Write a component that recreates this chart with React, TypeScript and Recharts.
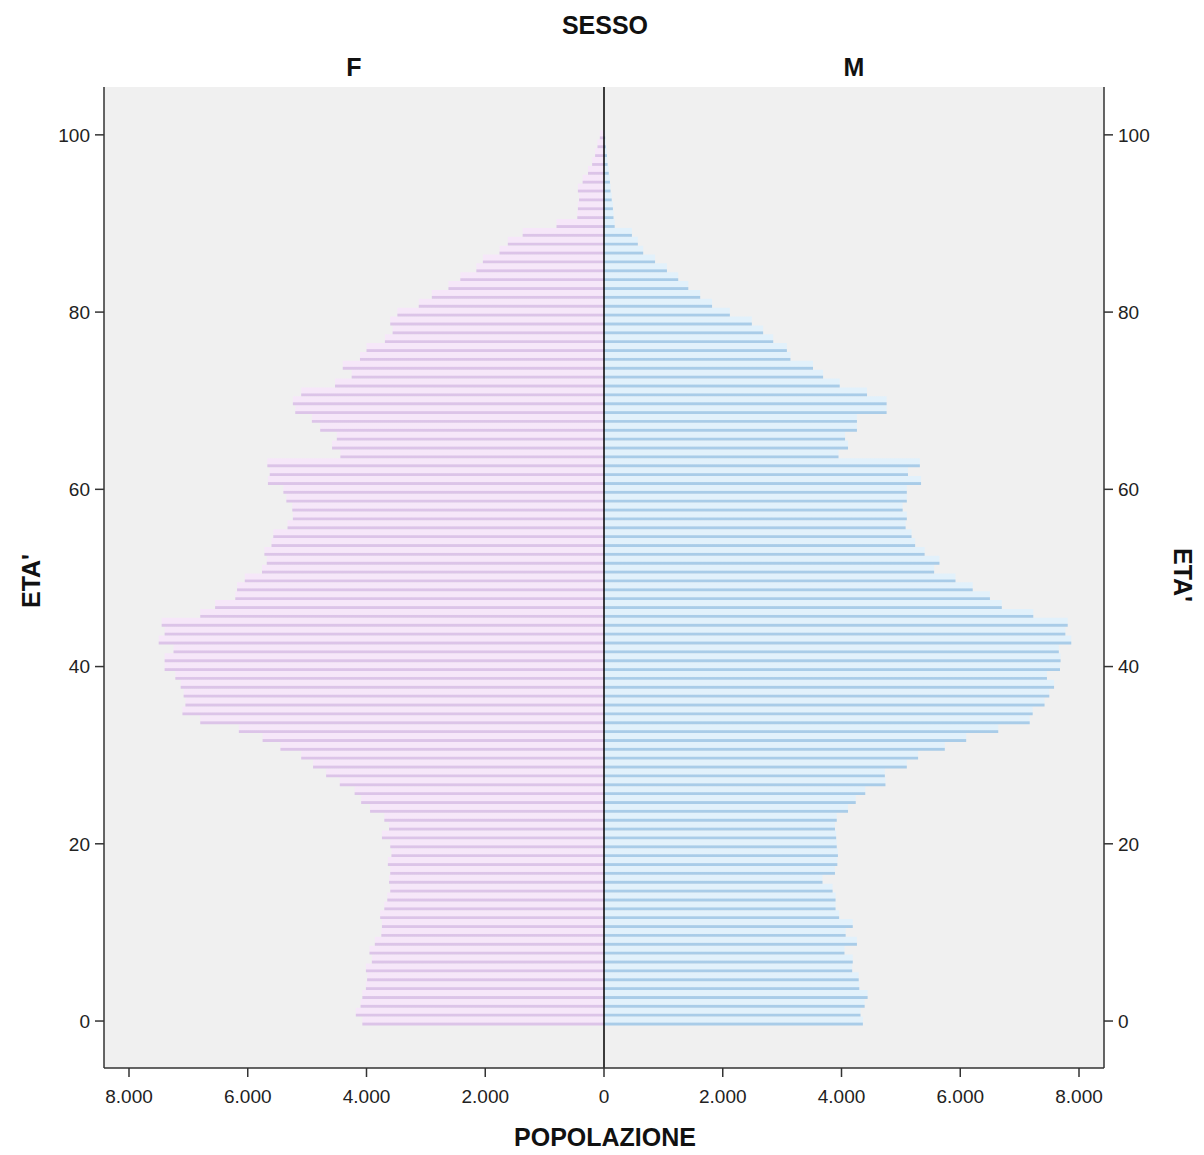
import React from 'react';
import {
  BarChart,
  Bar,
  XAxis,
  YAxis,
  CartesianGrid,
  ReferenceLine,
} from 'recharts';

// eta' 0..100, one bar per year
const eta: number[] = Array.from({ length: 101 }, (_, i) => i);

const femmine: number[] = [
  4070, 4180, 4100, 4070, 4010, 3990, 4010, 3910, 3950, 3860,
  3750, 3740, 3770, 3700, 3650, 3600, 3620, 3600, 3640, 3580,
  3600, 3740, 3620, 3700, 3940, 4090, 4200, 4450, 4680, 4900,
  5100, 5450, 5750, 6150, 6800, 7100, 7050, 7080, 7130, 7220,
  7400, 7400, 7250, 7500, 7400, 7450, 6800, 6550, 6210, 6180,
  6050, 5760, 5680, 5720, 5600, 5570, 5330, 5240, 5250, 5350,
  5400, 5660, 5630, 5670, 4440, 4580, 4500, 4780, 4920, 5200,
  5240, 5100, 4530, 4250, 4400, 4110, 4000, 3690, 3560, 3600,
  3480, 3120, 2900, 2620, 2420, 2150, 2040, 1760, 1620, 1370,
  800, 450, 440, 420, 440, 360, 270, 200, 150, 110,
  70,
];

const maschi: number[] = [
  4360, 4320, 4390, 4440, 4300, 4290, 4180, 4190, 4050, 4260,
  4070, 4190, 3960, 3900, 3900, 3850, 3680, 3890, 3930, 3940,
  3920, 3910, 3890, 3920, 4110, 4240, 4400, 4740, 4730, 5100,
  5290, 5740, 6100, 6640, 7170, 7220, 7420, 7500, 7580, 7460,
  7680, 7690, 7660, 7870, 7770, 7810, 7230, 6700, 6500, 6210,
  5920, 5560, 5650, 5400, 5240, 5180, 5080, 5100, 5030, 5100,
  5100, 5340, 5120, 5320, 3950, 4110, 4060, 4260, 4260, 4760,
  4760, 4430, 3970, 3690, 3520, 3140, 3080, 2850, 2680, 2490,
  2120, 1820, 1620, 1420, 1250, 1060, 860, 660, 570, 470,
  180, 160, 150, 130, 110, 100, 80, 60, 50, 30,
  20,
];

const xTicks: number[] = [-8000, -6000, -4000, -2000, 0, 2000, 4000, 6000, 8000];
const yTicks: number[] = [0, 20, 40, 60, 80, 100];

const data = eta.map((age, i) => ({ age, F: -femmine[i], M: maschi[i] }));

const FONT = '"Liberation Sans", Arial, sans-serif';
const tickStyle = { fontSize: 19, fill: '#222', fontFamily: FONT };

const formatPop = (v: number) =>
  Math.abs(v) === 0 ? '0' : Math.abs(v).toLocaleString('de-DE');

const labelStyle: React.CSSProperties = {
  position: 'absolute',
  fontFamily: FONT,
  fontWeight: 'bold',
  fontSize: 25,
  color: '#111',
  transform: 'translate(-50%, -50%)',
  whiteSpace: 'nowrap',
};

const App: React.FC = () => {
  return (
    <div style={{ position: 'absolute', left: 0, top: 0, width: 1204, height: 1155, background: '#fff' }}>
      <BarChart
        width={1204}
        height={1155}
        data={data}
        layout='vertical'
        stackOffset='sign'
        margin={{ top: 87, right: 0, bottom: 0, left: 0 }}
      >
        <defs>
          <linearGradient id='gradF' x1='0' y1='0' x2='0' y2='1'>
            <stop offset='0%' stopColor='#f6e7f9' />
            <stop offset='62%' stopColor='#f6e7f9' />
            <stop offset='74%' stopColor='#dcc4e8' />
            <stop offset='100%' stopColor='#dcc4e8' />
          </linearGradient>
          <linearGradient id='gradM' x1='0' y1='0' x2='0' y2='1'>
            <stop offset='0%' stopColor='#e2f1fb' />
            <stop offset='62%' stopColor='#e2f1fb' />
            <stop offset='74%' stopColor='#a9cce8' />
            <stop offset='100%' stopColor='#a9cce8' />
          </linearGradient>
        </defs>
        <CartesianGrid fill='#f0f0f0' horizontal={false} vertical={false} />
        <XAxis
          type='number'
          domain={[-8421, 8421]}
          ticks={xTicks}
          allowDataOverflow
          tickFormatter={formatPop}
          tick={tickStyle}
          tickSize={9}
          tickMargin={13}
          height={87}
          stroke='#333'
          strokeWidth={1.5}
        />
        <XAxis
          xAxisId='top'
          orientation='top'
          type='number'
          domain={[-8421, 8421]}
          allowDataOverflow
          tick={false}
          tickLine={false}
          height={0}
          stroke='#333'
          strokeWidth={1.5}
        />
        <YAxis
          type='number'
          dataKey='age'
          domain={[-5.3, 105.4]}
          ticks={yTicks}
          reversed
          allowDataOverflow
          tick={tickStyle}
          tickSize={9}
          tickMargin={5}
          width={104}
          stroke='#333'
          strokeWidth={1.5}
        />
        <YAxis
          yAxisId='right'
          orientation='right'
          type='number'
          dataKey='age'
          domain={[-5.3, 105.4]}
          ticks={yTicks}
          reversed
          allowDataOverflow
          tick={tickStyle}
          tickSize={9}
          tickMargin={5}
          width={100}
          stroke='#333'
          strokeWidth={1.5}
        />
        <Bar
          dataKey='F'
          stackId='p'
          barSize={8.86}
          fill='url(#gradF)'
          isAnimationActive={false}
        />
        <Bar
          dataKey='M'
          stackId='p'
          barSize={8.86}
          fill='url(#gradM)'
          isAnimationActive={false}
        />
        <ReferenceLine x={0} stroke='#000' strokeWidth={1.5} />
      </BarChart>
      <div style={{ ...labelStyle, left: 605, top: 25 }}>SESSO</div>
      <div style={{ ...labelStyle, left: 354, top: 67 }}>F</div>
      <div style={{ ...labelStyle, left: 854, top: 67 }}>M</div>
      <div style={{ ...labelStyle, left: 605, top: 1137 }}>POPOLAZIONE</div>
      <div style={{ ...labelStyle, left: 31, top: 581, transform: 'translate(-50%, -50%) rotate(-90deg)' }}>
        ETA'
      </div>
      <div style={{ ...labelStyle, left: 1182, top: 575, transform: 'translate(-50%, -50%) rotate(90deg)' }}>
        ETA'
      </div>
    </div>
  );
};

export default App;
